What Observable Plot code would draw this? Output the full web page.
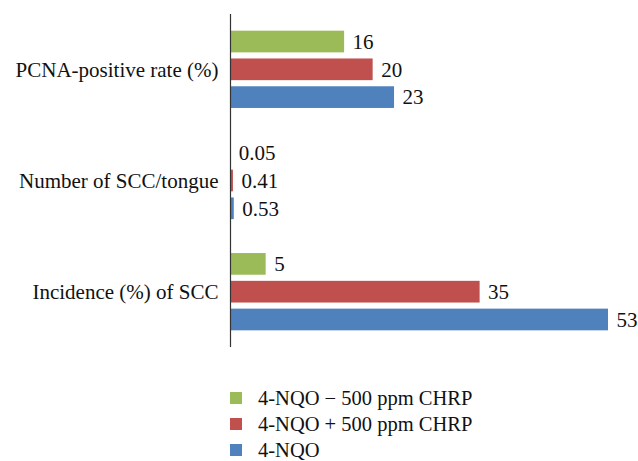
<!DOCTYPE html>
<html>
<head>
<meta charset="utf-8">
<script src="https://cdn.jsdelivr.net/npm/d3@7"></script>
<script src="https://cdn.jsdelivr.net/npm/@observablehq/plot@0.6"></script>
<style>
  body { margin: 0; background: #fff; font-family: "Liberation Serif", "Times New Roman", "DejaVu Serif", serif; }
  #chart svg { display: block; }
  #chart svg text { font-family: "Liberation Serif", "Times New Roman", "DejaVu Serif", serif; }
  .legend { margin: 25px 0 0 230px; font-family: "Liberation Serif", "Times New Roman", "DejaVu Serif", serif; font-size: 20.5px; color: #111; }
  .legend .row { display: flex; align-items: center; height: 26px; }
  .legend .sw { width: 12px; height: 12px; margin-right: 16px; }
</style>
</head>
<body>
<div id="chart"></div>
<script>
const categories = ["PCNA-positive rate (%)", "Number of SCC/tongue", "Incidence (%) of SCC"];
const series = ["4-NQO \u2212 500 ppm CHRP", "4-NQO + 500 ppm CHRP", "4-NQO"];
const colors = ["#9BBB59", "#C0504D", "#4F81BD"];
const minusCHRP = [16, 0.05, 5];
const plusCHRP = [20, 0.41, 35];
const nqoOnly = [23, 0.53, 53];
const seriesValues = [minusCHRP, plusCHRP, nqoOnly];

const data = [];
categories.forEach((c, ci) => {
  series.forEach((s, si) => {
    data.push({category: c, series: s, key: c + "|" + s, value: seriesValues[si][ci]});
  });
});

const domain = [];
categories.forEach((c, ci) => {
  series.forEach(s => domain.push(c + "|" + s));
  if (ci < categories.length - 1) domain.push("spacer" + ci);
});
const labelFor = new Map(categories.map(c => [c + "|" + series[1], c]));

const plot = Plot.plot({
  width: 638,
  height: 360,
  marginTop: 14,
  marginBottom: 13,
  marginLeft: 230,
  marginRight: 30,
  style: {fontSize: "21px", color: "#111", background: "#fff"},
  x: {domain: [0, 53], axis: null},
  y: {domain, round: false, paddingInner: 0.22, paddingOuter: 0.6, label: null, tickSize: 0, tickPadding: 12,
      tickFormat: d => labelFor.get(d) || ""},
  color: {domain: series, range: colors},
  marks: [
    Plot.barX(data, {y: "key", x: "value", fill: "series"}),
    Plot.text(data, {y: "key", x: "value", text: d => String(d.value), dx: 8, textAnchor: "start", fill: "#111", fontSize: 21}),
    Plot.ruleX([0], {stroke: "#333", strokeWidth: 1.2})
  ]
});
document.getElementById("chart").appendChild(plot);

const legend = d3.select("body").append("div").attr("class", "legend");
series.forEach((s, i) => {
  const row = legend.append("div").attr("class", "row");
  row.append("div").attr("class", "sw").style("background", colors[i]);
  row.append("span").text(s);
});
</script>
</body>
</html>
